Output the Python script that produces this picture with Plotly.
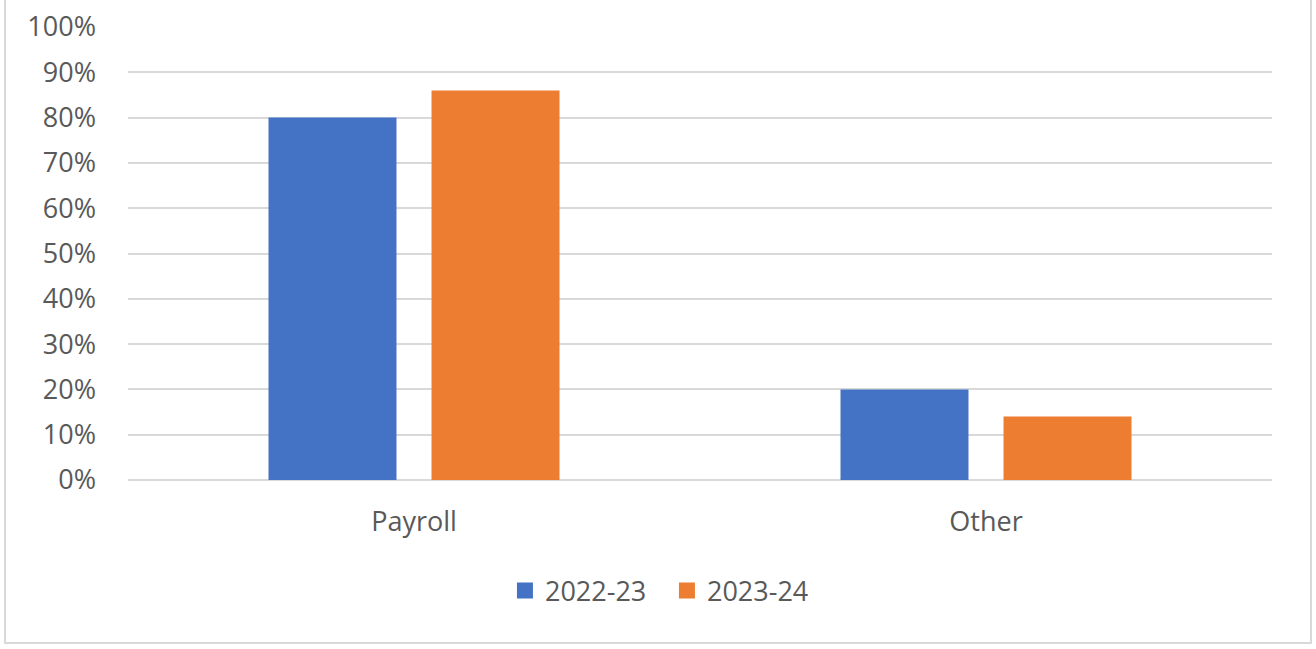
import plotly.graph_objects as go

categories = ["Payroll", "Other"]
series_names = ["2022-23", "2023-24"]
values_2022_23 = [0.80, 0.20]
values_2023_24 = [0.86, 0.14]
tick_vals = [0, 0.1, 0.2, 0.3, 0.4, 0.5, 0.6, 0.7, 0.8, 0.9, 1.0]
tick_text = ["0%", "10%", "20%", "30%", "40%", "50%", "60%", "70%", "80%", "90%", "100%"]

colors = ["#4472C4", "#ED7D31"]
font_family = "Open Sans, DejaVu Sans, sans-serif"
text_color = "#595959"
fsize = 27

fig = go.Figure()
for name, vals, col in zip(series_names, [values_2022_23, values_2023_24], colors):
    fig.add_trace(go.Bar(x=categories, y=vals, name=name, marker=dict(color=col, line=dict(width=0)),
                         showlegend=False))
for name, col in zip(series_names, colors):
    fig.add_trace(go.Scatter(x=[None], y=[None], mode="markers", name=name,
                             marker=dict(symbol="square", size=16, color=col)))

fig.update_layout(
    width=1316, height=649,
    margin=dict(l=128, r=44, t=27, b=169, autoexpand=False),
    paper_bgcolor="white", plot_bgcolor="white",
    barmode="group", bargap=0.43, bargroupgap=0.215,
    font=dict(family=font_family, size=fsize, color=text_color),
    showlegend=True,
    legend=dict(orientation="h", xref="container", yref="container",
                x=0.5068, xanchor="center", y=(649 - 591) / 649, yanchor="middle",
                font=dict(size=fsize, color=text_color), itemwidth=30,
                entrywidth=117, entrywidthmode="pixels", tracegroupgap=0),
    xaxis=dict(showgrid=False, showline=False, ticks="", ticklabelstandoff=23, automargin=False,
               tickfont=dict(size=fsize, color=text_color)),
    yaxis=dict(range=[0, 1.0], tickvals=tick_vals, ticktext=tick_text, showgrid=True,
               gridcolor="#D9D9D9", gridwidth=2, zeroline=True, zerolinecolor="#D9D9D9",
               zerolinewidth=2, showline=False, ticks="", ticklabelstandoff=31, automargin=False,
               tickfont=dict(size=fsize, color=text_color)),
    shapes=[dict(type="rect", xref="paper", yref="paper",
                 x0=(5 - 128) / 1144, x1=(1311 - 128) / 1144,
                 y0=(480 - 643) / 453, y1=(480 + 4) / 453,
                 line=dict(color="#D9D9D9", width=2), fillcolor="rgba(0,0,0,0)", layer="below")],
)

fig.write_html("out.html", config={"displayModeBar": False},
               post_script="document.body.style.margin='0';document.body.style.overflow='hidden';")
